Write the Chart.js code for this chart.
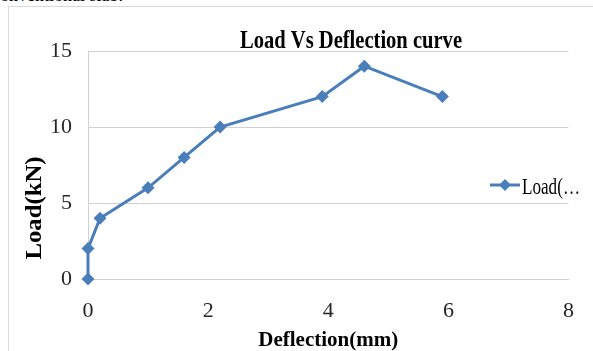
<!DOCTYPE html>
<html>
<head>
<meta charset="utf-8">
<script src="https://cdn.jsdelivr.net/npm/chart.js@4/dist/chart.umd.min.js"></script>
<style>
  html, body { margin: 0; padding: 0; background: #fff; overflow: hidden; }
  #page { position: relative; width: 593px; height: 351px; }
  #doctext { position: absolute; left: -8px; top: -15px; font: 18px "Liberation Serif", serif; color: #000; white-space: nowrap; }
  #frame { position: absolute; left: 8px; top: 6px; width: 700px; height: 500px; border: 1px solid #d9d9d9; }
  #chart { position: absolute; left: 0; top: 0; }
</style>
</head>
<body>
<div id="page">
  <div id="doctext">conventional slab.</div>
  <div id="frame"></div>
  <canvas id="chart" width="593" height="351"></canvas>
</div>
<script>
// data
const deflection = [0, 0, 0.2, 1, 1.6, 2.2, 3.9, 4.6, 5.9];
const load = [0, 2, 4, 6, 8, 10, 12, 14, 12];
const seriesName = 'Load(…';
const chartTitle = 'Load Vs Deflection curve';
const xTitle = 'Deflection(mm)';
const yTitle = 'Load(kN)';

const lineColor = '#4a7ebb';
const serif = '"Liberation Serif", "Times New Roman", serif';

// the original text is tall and narrow, so squeeze it to the width it had
function narrowText(ctx, text, x, y, width) {
    const w = ctx.measureText(text).width;
    ctx.save();
    ctx.translate(x, y);
    ctx.scale(width / w, 1);
    ctx.fillText(text, 0, 0);
    ctx.restore();
}

// title, y title and legend sit where the original put them, so draw them by hand
const overlay = {
    id: 'overlay',
    afterDraw(chart) {
        const ctx = chart.ctx;
        ctx.save();
        ctx.fillStyle = '#000';

        ctx.font = 'bold 25px ' + serif;
        ctx.textAlign = 'center';
        ctx.textBaseline = 'alphabetic';
        narrowText(ctx, chartTitle, 351, 48, 222);

        ctx.save();
        ctx.translate(41, 208);
        ctx.rotate(-Math.PI / 2);
        ctx.font = 'bold 23px ' + serif;
        narrowText(ctx, yTitle, 0, 0, 103);
        ctx.restore();

        // legend
        const ly = 185;
        ctx.strokeStyle = lineColor;
        ctx.lineWidth = 3;
        ctx.beginPath();
        ctx.moveTo(490, ly);
        ctx.lineTo(520, ly);
        ctx.stroke();
        ctx.fillStyle = lineColor;
        ctx.beginPath();
        ctx.moveTo(505, ly - 6);
        ctx.lineTo(511, ly);
        ctx.lineTo(505, ly + 6);
        ctx.lineTo(499, ly);
        ctx.closePath();
        ctx.fill();
        ctx.fillStyle = '#000';
        ctx.font = '24px ' + serif;
        ctx.textAlign = 'left';
        narrowText(ctx, seriesName, 522, 194, 58);
        ctx.restore();
    }
};

const points = deflection.map((d, i) => ({ x: d, y: load[i] }));

new Chart(document.getElementById('chart'), {
    type: 'scatter',
    data: {
        datasets: [{
            label: seriesName,
            data: points,
            showLine: true,
            borderColor: lineColor,
            backgroundColor: lineColor,
            borderWidth: 3,
            pointStyle: 'rectRot',
            pointRadius: 6.5,
            pointHoverRadius: 6.5,
            pointBorderWidth: 0,
            clip: false
        }]
    },
    options: {
        responsive: false,
        animation: false,
        layout: { padding: { left: 0, right: 23, top: 51, bottom: 0 } },
        plugins: {
            legend: { display: false },
            title: { display: false },
            tooltip: { enabled: false }
        },
        scales: {
            x: {
                type: 'linear',
                min: 0,
                max: 8,
                ticks: {
                    stepSize: 2,
                    padding: 19,
                    color: '#262626',
                    font: { family: serif, size: 22 }
                },
                grid: { display: false, drawTicks: false },
                border: { display: true, color: '#d0d0d0' },
                title: {
                    display: true,
                    text: xTitle,
                    color: '#000',
                    font: { family: serif, size: 21, weight: 'bold' },
                    padding: { top: 0, bottom: -2 }
                },
                afterFit(scale) { scale.height = 72; }
            },
            y: {
                min: 0,
                max: 15,
                ticks: {
                    stepSize: 5,
                    padding: 16,
                    color: '#262626',
                    font: { family: serif, size: 22 }
                },
                grid: { color: '#d0d0d0', drawTicks: false },
                border: { display: true, color: '#d0d0d0' },
                afterFit(scale) { scale.width = 88; }
            }
        }
    },
    plugins: [overlay]
});
</script>
</body>
</html>
